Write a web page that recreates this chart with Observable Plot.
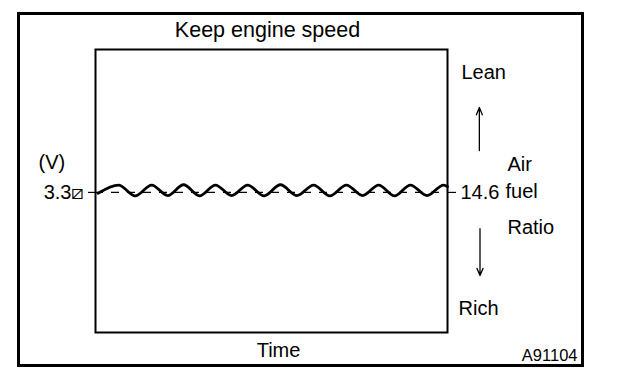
<!DOCTYPE html>
<html>
<head>
<meta charset="utf-8">
<script src="https://cdn.jsdelivr.net/npm/d3@7"></script>
<script src="https://cdn.jsdelivr.net/npm/@observablehq/plot@0.6"></script>
<style>
  html, body { margin: 0; padding: 0; background: #fff; }
  #wrap { position: relative; width: 624px; height: 382px; overflow: hidden; }
  #border { position: absolute; left: 17px; top: 12px; width: 561px; height: 349px; border: 3px solid #000; pointer-events: none; }
  svg { font-family: "Liberation Sans", Arial, sans-serif; }
</style>
</head>
<body>
<div id="wrap"><div id="border"></div></div>
<script>
// Sensor output trace
const time = [0.08, 0.71, 1.22, 1.73, 2.22, 2.71, 3.20, 3.69, 4.19, 4.68, 5.19, 5.69, 6.20, 6.71, 7.21, 7.72, 8.22, 8.71, 9.20, 9.69, 10.20, 10.71, 10.83];
const voltage = [3.297, 3.326, 3.288, 3.326, 3.289, 3.327, 3.288, 3.326, 3.289, 3.326, 3.288, 3.327, 3.289, 3.326, 3.288, 3.326, 3.289, 3.326, 3.288, 3.326, 3.289, 3.326, 3.320];

// Reference level
const refVoltage = 3.3;
const leftTickLabel = "3.3\u29C4";
const rightTickLabel = "14.6";

// Text labels
const title = "Keep engine speed";
const xLabel = "Time";
const yLabel = "(V)";
const figureId = "A91104";
const lean = "Lean";
const rich = "Rich";
const ratioWords = ["Air", "fuel", "Ratio"];

// Arrows (data units)
const arrowX = [11.81, 11.83];
const arrowFrom = [3.448, 3.172];
const arrowTo = [3.600, 3.006];

const trace = time.map((t, i) => ({t, v: voltage[i]}));
const arrows = arrowX.map((x, i) => ({x, y1: arrowFrom[i], y2: arrowTo[i]}));

const font = 20;
const mid = "middle";
const chart = Plot.plot({
  width: 624,
  height: 382,
  marginLeft: 95,
  marginRight: 177,
  marginTop: 49,
  marginBottom: 50,
  style: {fontFamily: "'Liberation Sans', 'DejaVu Sans', Arial, sans-serif", background: "transparent", color: "#000"},
  x: {domain: [0, 10.83], axis: null},
  y: {domain: [2.805, 3.805], axis: null},
  marks: [
    Plot.axisY({anchor: "left", ticks: [refVoltage], tickFormat: () => leftTickLabel, tickSize: 7, tickPadding: 4, fontSize: font, label: null, stroke: "#000", strokeWidth: 1.2}),
    Plot.axisY({anchor: "right", ticks: [refVoltage], tickFormat: () => rightTickLabel, tickSize: 8, tickPadding: 5, fontSize: font, label: null, stroke: "#000", strokeWidth: 1.2}),
    Plot.ruleY([refVoltage], {stroke: "#000", strokeWidth: 1.2, strokeDasharray: "8,8"}),
    Plot.frame({stroke: "#000", strokeWidth: 2}),
    Plot.line(trace, {x: "t", y: "v", curve: "monotone-x", stroke: "#000", strokeWidth: 2.8}),
    Plot.arrow(arrows, {x: "x", y1: "y1", y2: "y2", stroke: "#000", strokeWidth: 1.3, headLength: 9, headAngle: 45}),
    Plot.text([title], {frameAnchor: "top", lineAnchor: mid, dx: -4, dy: -19, fontSize: 21.5, fill: "#000"}),
    Plot.text([xLabel], {frameAnchor: "bottom", lineAnchor: mid, dx: 7, dy: 18, fontSize: font, fill: "#000"}),
    Plot.text([figureId], {frameAnchor: "bottom-right", lineAnchor: mid, textAnchor: "end", dx: 130, dy: 23, fontSize: 16.5, fill: "#000"}),
    Plot.text([yLabel], {frameAnchor: "left", lineAnchor: mid, textAnchor: "start", dx: -57, dy: -28, fontSize: font, fill: "#000"}),
    Plot.text([lean], {frameAnchor: "top-right", lineAnchor: mid, textAnchor: "start", dx: 14, dy: 23, fontSize: font, fill: "#000"}),
    Plot.text([rich], {frameAnchor: "bottom-right", lineAnchor: mid, textAnchor: "start", dx: 11, dy: -24, fontSize: font, fill: "#000"}),
    Plot.text([ratioWords[0]], {frameAnchor: "right", lineAnchor: mid, textAnchor: "start", dx: 60, dy: -26, fontSize: font, fill: "#000"}),
    Plot.text([ratioWords[1]], {frameAnchor: "right", lineAnchor: mid, textAnchor: "start", dx: 58, dy: 1, fontSize: font, fill: "#000"}),
    Plot.text([ratioWords[2]], {frameAnchor: "right", lineAnchor: mid, textAnchor: "start", dx: 60, dy: 37, fontSize: font, fill: "#000"})
  ]
});
document.getElementById("wrap").prepend(chart);
</script>
</body>
</html>
